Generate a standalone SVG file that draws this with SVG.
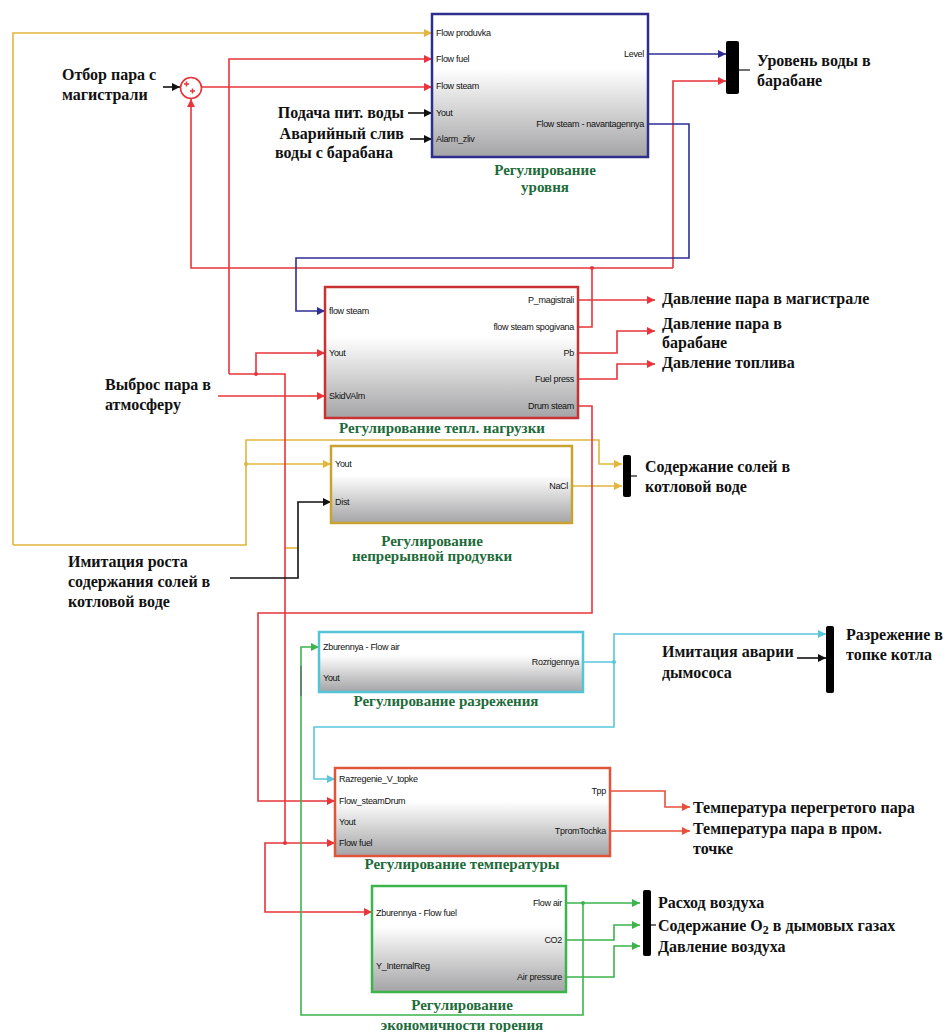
<svg xmlns="http://www.w3.org/2000/svg" width="948" height="1032" viewBox="0 0 948 1032">
<style>
.lbl{font-family:"Liberation Serif","Times New Roman",serif;font-weight:bold;font-size:16px;fill:#111}
.cap{font-family:"Liberation Serif","Times New Roman",serif;font-weight:bold;font-size:15px;fill:#1d6b3a;text-anchor:middle}
.port{font-family:"Liberation Sans",Arial,sans-serif;font-size:9px;fill:#111;letter-spacing:-0.3px}
.pr{text-anchor:end}
.blk{stroke-width:2.5;fill:url(#g)}
.c{fill:none;stroke-width:1.6}
.y{stroke:#e2b53c}.r{stroke:#e8343a}.b{stroke:#2e2e96}.k{stroke:#111}.cy{stroke:#5ac6dc}.gr{stroke:#3cb44b}.o{stroke:#e8503a}
.ay{marker-end:url(#ay)}.ar{marker-end:url(#ar)}.ab{marker-end:url(#ab)}.ak{marker-end:url(#ak)}.acy{marker-end:url(#acy)}.agr{marker-end:url(#agr)}.ao{marker-end:url(#ao)}
.bus{fill:#000}
</style>
<defs>
<linearGradient id="g" x1="0" y1="0" x2="0" y2="1">
<stop offset="0" stop-color="#ffffff"/><stop offset="0.38" stop-color="#ffffff"/><stop offset="1" stop-color="#a4a4a6"/>
</linearGradient>
<marker id="ay" viewBox="0 0 10 10" refX="10" refY="5" markerWidth="9" markerHeight="8" markerUnits="userSpaceOnUse" orient="auto"><path d="M0,0L10,5L0,10z" fill="#e2b53c"/></marker>
<marker id="ar" viewBox="0 0 10 10" refX="10" refY="5" markerWidth="9" markerHeight="8" markerUnits="userSpaceOnUse" orient="auto"><path d="M0,0L10,5L0,10z" fill="#e8343a"/></marker>
<marker id="ab" viewBox="0 0 10 10" refX="10" refY="5" markerWidth="9" markerHeight="8" markerUnits="userSpaceOnUse" orient="auto"><path d="M0,0L10,5L0,10z" fill="#2e2e96"/></marker>
<marker id="ak" viewBox="0 0 10 10" refX="10" refY="5" markerWidth="9" markerHeight="8" markerUnits="userSpaceOnUse" orient="auto"><path d="M0,0L10,5L0,10z" fill="#111"/></marker>
<marker id="acy" viewBox="0 0 10 10" refX="10" refY="5" markerWidth="9" markerHeight="8" markerUnits="userSpaceOnUse" orient="auto"><path d="M0,0L10,5L0,10z" fill="#5ac6dc"/></marker>
<marker id="agr" viewBox="0 0 10 10" refX="10" refY="5" markerWidth="9" markerHeight="8" markerUnits="userSpaceOnUse" orient="auto"><path d="M0,0L10,5L0,10z" fill="#3cb44b"/></marker>
<marker id="ao" viewBox="0 0 10 10" refX="10" refY="5" markerWidth="9" markerHeight="8" markerUnits="userSpaceOnUse" orient="auto"><path d="M0,0L10,5L0,10z" fill="#e8503a"/></marker>
</defs>
<rect width="948" height="1032" fill="#fff"/>

<g id="connectors">
<!-- yellow -->
<path class="c y ay" d="M13,545 V33 H432"/>
<path class="c y ay" d="M13,545 H246 V440 H599 V464 H622"/>
<path class="c y ay" d="M246,464 H331"/>
<path class="c y ay" d="M572,486 H622"/>
<path class="c y" d="M285,548 H298"/>
<circle cx="246" cy="464" r="2" fill="#e2b53c"/>
<!-- red -->
<path class="c r ar" d="M202,87 H432"/>
<path class="c r ar" d="M229,374 V59 H432"/>
<path class="c r" d="M229,374 H285 V843"/>
<path class="c r ar" d="M256,374 V353 H325"/>
<circle cx="256" cy="374" r="2" fill="#e8343a"/>
<path class="c r ar" d="M285,843 H335"/>
<path class="c r ar" d="M285,843 H265 V912 H372"/>
<circle cx="285" cy="843" r="2" fill="#e8343a"/>
<path class="c r ar" d="M218,396 H325"/>
<path class="c r" d="M578,327 H592 V268"/>
<path class="c r ar" d="M673,268 V81 H726"/>
<path class="c r ar" d="M673,268 H191 V99"/>
<circle cx="592" cy="268" r="2" fill="#e8343a"/>
<path class="c r ar" d="M578,406 H592 V613 H258 V801 H335"/>
<path class="c r ar" d="M578,300 H655"/>
<path class="c r ar" d="M578,353 H617 V331 H655"/>
<path class="c r ar" d="M578,379 H617 V364 H655"/>
<path class="c o ao" d="M610,791 H665 V807 H690"/>
<path class="c o ao" d="M610,831 H690"/>
<!-- blue -->
<path class="c b ab" d="M648,54 H726"/>
<path class="c b ab" d="M648,124 H689 V258 H296 V311 H325"/>
<!-- black -->
<path class="c k ak" d="M163,87 H180"/>
<path class="c k ak" d="M408,113 H432"/>
<path class="c k ak" d="M410,139 H432"/>
<path class="c k ak" d="M230,578 H298 V502 H331"/>
<path class="c k ak" d="M797,658 H826"/>
<!-- cyan -->
<path class="c cy acy" d="M583,662 H614 V634 H826"/>
<path class="c cy acy" d="M614,662 V727 H314 V779 H335"/>
<circle cx="614" cy="662" r="2" fill="#5ac6dc"/>
<!-- green -->
<path class="c gr agr" d="M566,903 H640"/>
<path class="c gr agr" d="M583,903 V1015 H301 V647 H319"/>
<circle cx="583" cy="903" r="2" fill="#3cb44b"/>
<path class="c gr agr" d="M566,940 H614 V925 H640"/>
<path class="c gr agr" d="M566,977 H614 V946 H640"/>
<path d="M301,666 V696" stroke="#5d7f6a" stroke-width="1.6" fill="none"/>
</g>

<g id="sum">
<circle cx="191" cy="88" r="10.5" fill="#fff" stroke="#e8343a" stroke-width="1.6"/>
<path d="M184,84 h5 M186.5,81.5 v5 M190,91 h5 M192.5,88.5 v5" stroke="#e8343a" stroke-width="1.5"/>
</g>

<g id="bus1"><rect class="bus" x="726" y="41" width="13" height="53" rx="2"/><path d="M739,70 H750" stroke="#111" stroke-width="1.2"/></g>
<g id="bus3"><rect class="bus" x="623" y="455" width="8" height="42" rx="2"/><path d="M631,476 H637" stroke="#111" stroke-width="1.2"/></g>
<g id="bus4"><rect class="bus" x="826" y="626" width="8" height="67" rx="2"/></g>
<g id="bus6"><rect class="bus" x="643" y="890" width="8" height="66" rx="2"/><path d="M651,925 H656" stroke="#111" stroke-width="1.2"/></g>

<g id="level">
<rect class="blk" x="432" y="14" width="216" height="143" stroke="#2e2e8c"/>
<text class="port" x="436" y="36">Flow produvka</text>
<text class="port" x="436" y="62">Flow fuel</text>
<text class="port" x="436" y="89">Flow steam</text>
<text class="port" x="436" y="116">Yout</text>
<text class="port" x="436" y="142">Alarm_zliv</text>
<text class="port pr" x="644" y="57">Level</text>
<text class="port pr" x="644" y="127">Flow steam - navantagennya</text>
<text class="cap" x="545" y="175">Регулирование</text>
<text class="cap" x="545" y="192">уровня</text>
</g>

<g id="thermal">
<rect class="blk" x="325" y="287" width="253" height="131" stroke="#c83232"/>
<text class="port" x="329" y="314">flow steam</text>
<text class="port" x="329" y="356">Yout</text>
<text class="port" x="329" y="399">SkidVAlm</text>
<text class="port pr" x="574" y="303">P_magistrali</text>
<text class="port pr" x="574" y="330">flow steam spogivana</text>
<text class="port pr" x="574" y="356">Pb</text>
<text class="port pr" x="574" y="382">Fuel press</text>
<text class="port pr" x="574" y="409">Drum steam</text>
<text class="cap" x="442" y="433">Регулирование тепл. нагрузки</text>
</g>

<g id="blowdown">
<rect class="blk" x="331" y="446" width="241" height="77" stroke="#c9a232"/>
<text class="port" x="335" y="467">Yout</text>
<text class="port" x="335" y="505">Dist</text>
<text class="port pr" x="568" y="489">NaCl</text>
<text class="cap" x="432" y="546">Регулирование</text>
<text class="cap" x="432" y="561">непрерывной продувки</text>
</g>

<g id="draft">
<rect class="blk" x="319" y="632" width="264" height="60" stroke="#56c4d8"/>
<text class="port" x="323" y="650">Zburennya - Flow air</text>
<text class="port" x="323" y="681">Yout</text>
<text class="port pr" x="579" y="665">Rozrigennya</text>
<text class="cap" x="446" y="706">Регулирование разрежения</text>
</g>

<g id="temperature">
<rect class="blk" x="335" y="768" width="275" height="88" stroke="#e0553a"/>
<text class="port" x="339" y="782">Razregenie_V_topke</text>
<text class="port" x="339" y="804">Flow_steamDrum</text>
<text class="port" x="339" y="825">Yout</text>
<text class="port" x="339" y="846">Flow fuel</text>
<text class="port pr" x="606" y="794">Tpp</text>
<text class="port pr" x="606" y="834">TpromTochka</text>
<text class="cap" x="462" y="869">Регулирование температуры</text>
</g>

<g id="combustion">
<rect class="blk" x="372" y="886" width="194" height="106" stroke="#3cb44b"/>
<text class="port" x="376" y="916">Zburennya - Flow fuel</text>
<text class="port" x="376" y="969">Y_InternalReg</text>
<text class="port pr" x="562" y="906">Flow air</text>
<text class="port pr" x="562" y="943">CO2</text>
<text class="port pr" x="562" y="980">Air pressure</text>
<text class="cap" x="462" y="1010">Регулирование</text>
<text class="cap" x="462" y="1030">экономичности горения</text>
</g>

<g id="labels">
<text class="lbl" x="62" y="80">Отбор пара с</text>
<text class="lbl" x="62" y="100">магистрали</text>
<text class="lbl" x="404" y="118" text-anchor="end">Подача пит. воды</text>
<text class="lbl" x="404" y="139" text-anchor="end">Аварийный слив</text>
<text class="lbl" x="275" y="158">воды с барабана</text>
<text class="lbl" x="757" y="66">Уровень воды в</text>
<text class="lbl" x="757" y="86">барабане</text>
<text class="lbl" x="662" y="304">Давление пара в магистрале</text>
<text class="lbl" x="662" y="329">Давление пара в</text>
<text class="lbl" x="662" y="348">барабане</text>
<text class="lbl" x="662" y="368">Давление топлива</text>
<text class="lbl" x="105" y="390">Выброс пара в</text>
<text class="lbl" x="105" y="410">атмосферу</text>
<text class="lbl" x="645" y="472">Содержание солей в</text>
<text class="lbl" x="645" y="492">котловой воде</text>
<text class="lbl" x="68" y="567">Имитация роста</text>
<text class="lbl" x="68" y="587">содержания солей в</text>
<text class="lbl" x="68" y="607">котловой воде</text>
<text class="lbl" x="846" y="640">Разрежение в</text>
<text class="lbl" x="846" y="660">топке котла</text>
<text class="lbl" x="662" y="657">Имитация аварии</text>
<text class="lbl" x="662" y="678">дымососа</text>
<text class="lbl" x="693" y="813">Температура перегретого пара</text>
<text class="lbl" x="693" y="834">Температура пара в пром.</text>
<text class="lbl" x="693" y="854">точке</text>
<text class="lbl" x="658" y="908">Расход воздуха</text>
<text class="lbl" x="658" y="931">Содержание O<tspan font-size="12" dy="3">2</tspan><tspan dy="-3"> в дымовых газах</tspan></text>
<text class="lbl" x="658" y="952">Давление воздуха</text>
</g>
</svg>
